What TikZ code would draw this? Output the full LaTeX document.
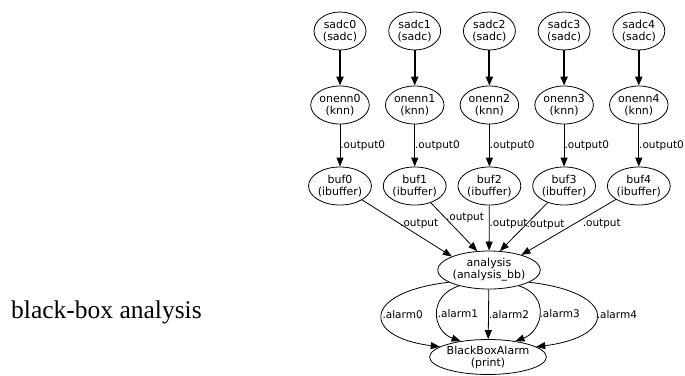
\documentclass[tikz,border=0pt]{standalone}
\usepackage{fontspec}
\setmainfont{DejaVu Sans}
\newfontfamily\captionfont{Liberation Serif}
\usetikzlibrary{positioning, arrows.meta, shapes.geometric}

\begin{document}
\begin{tikzpicture}[x=1pt, y=1pt,
    comp/.style={ellipse, draw, line width=0.8pt, inner sep=0pt, minimum width=52pt, minimum height=38pt, align=center, font=\fontsize{11}{12}\selectfont},
    feed/.style={-{Triangle[length=9pt,width=7pt]}, line width=2pt},
    conn/.style={-{Triangle[length=9pt,width=7pt]}, line width=0.8pt},
    lbl/.style={anchor=west, inner sep=0pt, font=\fontsize{10.5}{12}\selectfont}
]
    \useasboundingbox (0,0) rectangle (685,-375);

    % Caption
    \node[anchor=base west, inner sep=0pt, font=\captionfont\fontsize{25.5}{30}\selectfont] (title) at (11,-318) {black-box analysis};

    % Five sensor chains
    \foreach \i in {0,...,4} {
        \node[comp] (sadc\i) at ({340+74.7*\i},-31) {sadc\i\\(sadc)};
        \node[comp, minimum width=56pt] (onenn\i) at ({340+74.7*\i},-105) {onenn\i\\(knn)};
        \node[comp, minimum width=58pt] (buf\i) at ({340+74.7*\i},-186) {buf\i\\(ibuffer)};
        \draw[feed] (sadc\i) -- (onenn\i);
        \draw[conn] (onenn\i) -- node[lbl] {.output0} (buf\i);
    }

    % Analysis and alarm
    \node[comp, minimum width=82pt] (analysis) at (489,-270) {analysis\\(analysis\_bb)};
    \node[comp, minimum width=92pt, minimum height=35pt] (bba) at (488,-357) {BlackBoxAlarm\\(print)};

    \draw[conn] (buf0) -- node[lbl, pos=0.42] {.output} (analysis.160);
    \draw[conn] (buf1) -- node[lbl, pos=0.32] {.output} (analysis.122);
    \draw[conn] (buf2) -- node[lbl, pos=0.4] {.output} (analysis);
    \draw[conn] (buf3) -- node[lbl, pos=0.45] {.output} (analysis.60);
    \draw[conn] (buf4) -- node[lbl, pos=0.45, xshift=9pt] {.output} (analysis.25);

    \draw[conn] (analysis.197) .. controls +(-87,-10) and +(-79,10) .. (bba.168) node[lbl, midway] {.alarm0};
    \draw[conn] (analysis.208) .. controls +(-32,-10) and +(-28,10) .. (bba.150) node[lbl, midway] {.alarm1};
    \draw[conn] (analysis) -- node[lbl] {.alarm2} (bba);
    \draw[conn] (analysis.332) .. controls +(32,-10) and +(27,10) .. (bba.30) node[lbl, midway] {.alarm3};
    \draw[conn] (analysis.343) .. controls +(89,-10) and +(81,10) .. (bba.12) node[lbl, midway] {.alarm4};
\end{tikzpicture}
\end{document}
